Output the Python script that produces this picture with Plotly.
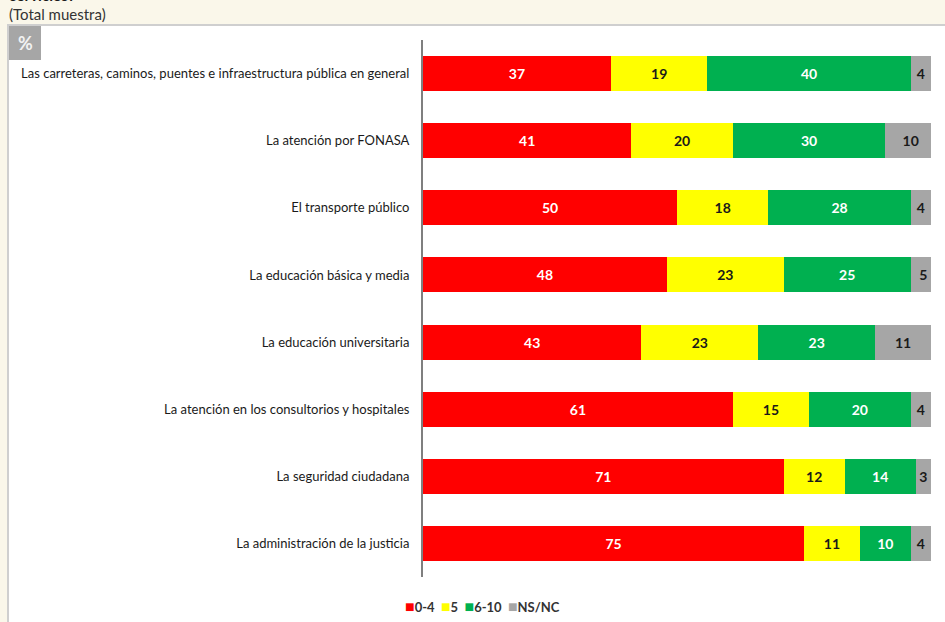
import plotly.graph_objects as go

# Survey data: share of respondents (%) by score band for each public service
categories = [
    "Las carreteras, caminos, puentes e infraestructura pública en general",
    "La atención por FONASA",
    "El transporte público",
    "La educación básica y media",
    "La educación universitaria",
    "La atención en los consultorios y hospitales",
    "La seguridad ciudadana",
    "La administración de la justicia",
]
score_0_4 = [37, 41, 50, 48, 43, 61, 71, 75]
score_5 = [19, 20, 18, 23, 23, 15, 12, 11]
score_6_10 = [40, 30, 28, 25, 23, 20, 14, 10]
ns_nc = [4, 10, 4, 5, 11, 4, 3, 4]

series = [
    ("0-4", score_0_4, "#ff0000", "white"),
    ("5", score_5, "#ffff00", "#1a1a1a"),
    ("6-10", score_6_10, "#00b050", "white"),
    ("NS/NC", ns_nc, "#a6a6a6", "#1a1a1a"),
]

W, H = 945, 622
ML, MR, MT, MB = 423, 14, 40, 45
PW, PH = W - ML - MR, H - MT - MB

def px(x):
    return (x - ML) / PW

def py(y):
    return (H - MB - y) / PH

fig = go.Figure()
for name, vals, color, tcolor in series:
    fig.add_trace(go.Bar(
        y=categories, x=vals, name=name, orientation="h",
        marker=dict(color=color, line=dict(width=0)),
        text=[str(v) for v in vals], textposition="inside",
        insidetextanchor="middle", textangle=0,
        textfont=dict(family="Lato", size=14, color=tcolor, weight="bold"),
        hoverinfo="skip", showlegend=False,
    ))

shapes = [
    # white panel with grey border on the cream page
    dict(type="rect", xref="paper", yref="paper",
         x0=px(8), x1=px(W + 5), y0=py(H + 5), y1=py(25),
         fillcolor="white", line=dict(color="#cfcfcf", width=2), layer="below"),
    # grey "%" tag
    dict(type="rect", xref="paper", yref="paper",
         x0=px(9), x1=px(41), y0=py(60), y1=py(26),
         fillcolor="#a6a6a6", line=dict(width=0), layer="below"),
]

# compact legend row: coloured square followed by its label
legend_html = "&nbsp;&nbsp;".join(
    f'<span style="color:{color};font-size:16px">■</span>{name}'
    for name, _, color, _ in series
)

annotations = [
    dict(text="<b>servicios?</b>", xref="paper", yref="paper", x=px(8), y=py(6),
         xanchor="left", yanchor="bottom", showarrow=False,
         font=dict(family="Lato", size=15, color="#1a1a1a")),
    dict(text="(Total muestra)", xref="paper", yref="paper", x=px(7), y=py(14),
         xanchor="left", yanchor="middle", showarrow=False,
         font=dict(family="Lato", size=15, color="#333333")),
    dict(text="<b>%</b>", xref="paper", yref="paper", x=px(25), y=py(43),
         xanchor="center", yanchor="middle", showarrow=False,
         font=dict(family="Lato", size=18, color="#f2f2f2")),
    dict(text=legend_html, xref="paper", yref="paper", x=px(482), y=py(606),
         xanchor="center", yanchor="middle", showarrow=False,
         font=dict(family="Lato", size=13, color="#333333", weight="bold")),
]

fig.update_layout(
    width=W, height=H,
    margin=dict(l=ML, r=MR, t=MT, b=MB, pad=0, autoexpand=False),
    barmode="stack", bargap=0.48,
    paper_bgcolor="#faf7ea", plot_bgcolor="white",
    font=dict(family="Lato", size=13, color="#1a1a1a"),
    xaxis=dict(range=[0, 100], visible=False, fixedrange=True),
    yaxis=dict(autorange="reversed", showgrid=False, zeroline=False,
               showline=True, linecolor="#7f7f7f", linewidth=2,
               ticks="", ticklabelstandoff=9,
               tickfont=dict(family="Lato", size=13, color="#1a1a1a")),
    shapes=shapes, annotations=annotations,
    showlegend=False,
)

fig.write_html("out.html")
